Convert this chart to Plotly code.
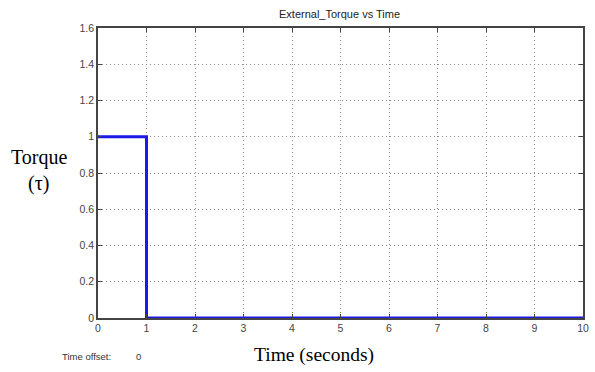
import plotly.graph_objects as go

# Data
time_s = [0, 1, 1, 10]
torque = [1, 1, 0, 0]
x_ticks = [0, 1, 2, 3, 4, 5, 6, 7, 8, 9, 10]
y_ticks = [0, 0.2, 0.4, 0.6, 0.8, 1, 1.2, 1.4, 1.6]
y_labels = ["0", "0.2", "0.4", "0.6", "0.8", "1", "1.2", "1.4", "1.6"]

W, H = 595, 372
L, R, T, B = 98, 6, 28, 54
pw = W - L - R
ph = H - T - B

def px(x):
    return (x - L) / pw

def py(y):
    return (H - B - y) / ph

fig = go.Figure()
fig.add_trace(go.Scatter(x=time_s, y=torque, mode="lines",
                         line=dict(color="#1a1ae6", width=3), showlegend=False))

axis_common = dict(showline=True, linecolor="#444444", linewidth=1.5, mirror="allticks",
                   ticks="inside", ticklen=4, tickcolor="#444444",
                   showgrid=True, gridcolor="#8c8c8c", griddash="1px,3px", gridwidth=1,
                   zeroline=False,
                   tickfont=dict(family="Arial, Liberation Sans", size=10.5, color="#444444"))

fig.update_xaxes(range=[0, 10], tickvals=x_ticks, ticktext=[str(v) for v in x_ticks], **axis_common)
fig.update_yaxes(range=[0, 1.6], tickvals=y_ticks, ticktext=y_labels, **axis_common)

fig.update_layout(
    width=W, height=H,
    margin=dict(l=L, r=R, t=T, b=B),
    plot_bgcolor="white", paper_bgcolor="white",
    annotations=[
        dict(text="External_Torque vs Time", xref="paper", yref="paper",
             x=px(342), y=py(14), showarrow=False, xanchor="center", yanchor="middle",
             font=dict(family="Arial, Liberation Sans", size=11, color="#222222")),
        dict(text="Torque", xref="paper", yref="paper",
             x=px(38), y=py(157), showarrow=False, xanchor="center", yanchor="middle",
             font=dict(family="Liberation Serif, Times New Roman", size=20, color="#000000")),
        dict(text="(τ)", xref="paper", yref="paper",
             x=px(38), y=py(183), showarrow=False, xanchor="center", yanchor="middle",
             font=dict(family="Liberation Serif, Times New Roman", size=20, color="#000000")),
        dict(text="Time (seconds)", xref="paper", yref="paper",
             x=px(317), y=py(355), showarrow=False, xanchor="center", yanchor="middle",
             font=dict(family="Liberation Serif, Times New Roman", size=19.5, color="#000000")),
        dict(text="Time offset:", xref="paper", yref="paper",
             x=px(60), y=py(356), showarrow=False, xanchor="left", yanchor="middle",
             font=dict(family="Arial, Liberation Sans", size=9.5, color="#333333")),
        dict(text="0", xref="paper", yref="paper",
             x=px(134), y=py(356), showarrow=False, xanchor="left", yanchor="middle",
             font=dict(family="Arial, Liberation Sans", size=9.5, color="#333333")),
    ],
)

fig.write_html("out.html")
